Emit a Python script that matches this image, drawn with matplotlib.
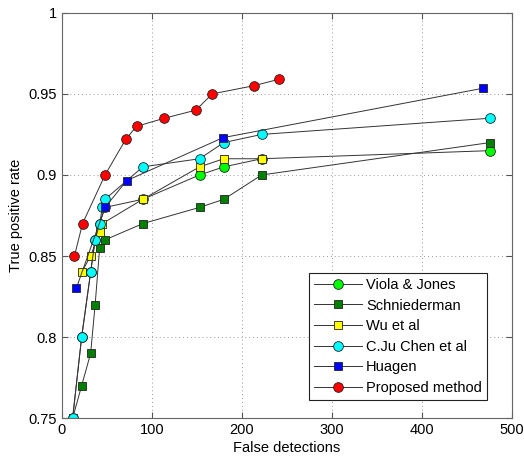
import matplotlib
matplotlib.use("Agg")
import matplotlib.pyplot as plt

plt.rcParams["font.family"] = ["Liberation Sans", "DejaVu Sans"]
plt.rcParams["font.size"] = 10

# data
vj_x = [12, 22, 32, 37, 42, 48, 90, 153, 180, 222, 476]
vj_y = [0.75, 0.80, 0.84, 0.86, 0.87, 0.88, 0.885, 0.90, 0.905, 0.91, 0.915]

sch_x = [12, 22, 32, 37, 42, 48, 90, 153, 180, 222, 476]
sch_y = [0.75, 0.77, 0.79, 0.82, 0.855, 0.86, 0.87, 0.88, 0.885, 0.90, 0.92]

wu_x = [22, 32, 42, 45, 90, 153, 180, 222]
wu_y = [0.84, 0.85, 0.865, 0.87, 0.885, 0.905, 0.91, 0.91]

chen_x = [12, 22, 32, 37, 42, 45, 48, 90, 153, 180, 222, 476]
chen_y = [0.75, 0.80, 0.84, 0.86, 0.87, 0.88, 0.885, 0.905, 0.91, 0.92, 0.925, 0.935]

hua_x = [16, 48, 72, 179, 468]
hua_y = [0.83, 0.88, 0.8965, 0.923, 0.9535]

prop_x = [14, 23, 48, 71, 83, 114, 149, 167, 213, 241]
prop_y = [0.85, 0.87, 0.90, 0.922, 0.93, 0.935, 0.94, 0.95, 0.955, 0.959]

series = [
    ("Viola & Jones", vj_x, vj_y, "o", "#00ff00"),
    ("Schniederman", sch_x, sch_y, "s", "#007f00"),
    ("Wu et al", wu_x, wu_y, "s", "#ffff00"),
    ("C.Ju Chen et al", chen_x, chen_y, "o", "#00ffff"),
    ("Huagen", hua_x, hua_y, "s", "#0000ff"),
    ("Proposed method", prop_x, prop_y, "o", "#ff0000"),
]


def main():
    fig = plt.figure(figsize=(5.24, 4.58), dpi=100)
    ax = fig.add_axes([0.118, 0.087, 0.859, 0.885])

    for name, x, y, m, c in series:
        ms = 7 if m == "o" else 6
        ax.plot(x, y, color="#333333", lw=0.7, marker=m, ms=ms,
                mfc=c, mec="#222222", mew=0.6, label=name)

    ax.set_xlim(0, 500)
    ax.set_ylim(0.75, 1)
    ax.set_xticks([0, 100, 200, 300, 400, 500])
    ax.set_yticks([0.75, 0.8, 0.85, 0.9, 0.95, 1])
    ax.set_yticklabels(["0.75", "0.8", "0.85", "0.9", "0.95", "1"])
    ax.grid(True, linestyle=(0, (1, 3)), color="#999999", lw=0.7)
    ax.tick_params(direction="in", top=True, right=True, length=4,
                   color="#555555", labelsize=10.5)
    for s in ax.spines.values():
        s.set_color("#666666")
        s.set_linewidth(0.8)

    ax.set_xlabel("False detections", labelpad=3, fontsize=10.5)
    ax.set_ylabel("True positive rate", labelpad=4, fontsize=10.5)

    leg = ax.legend(loc="lower right", bbox_to_anchor=(0.945, 0.045),
                    fancybox=False, framealpha=1, edgecolor="#222222",
                    handlelength=3.3, borderpad=0.35, labelspacing=0.45,
                    handletextpad=0.3, borderaxespad=0, fontsize=10.5)
    leg.get_frame().set_linewidth(0.8)

    fig.savefig("out.png", dpi=100)
    plt.close(fig)


if __name__ == "__main__":
    main()
